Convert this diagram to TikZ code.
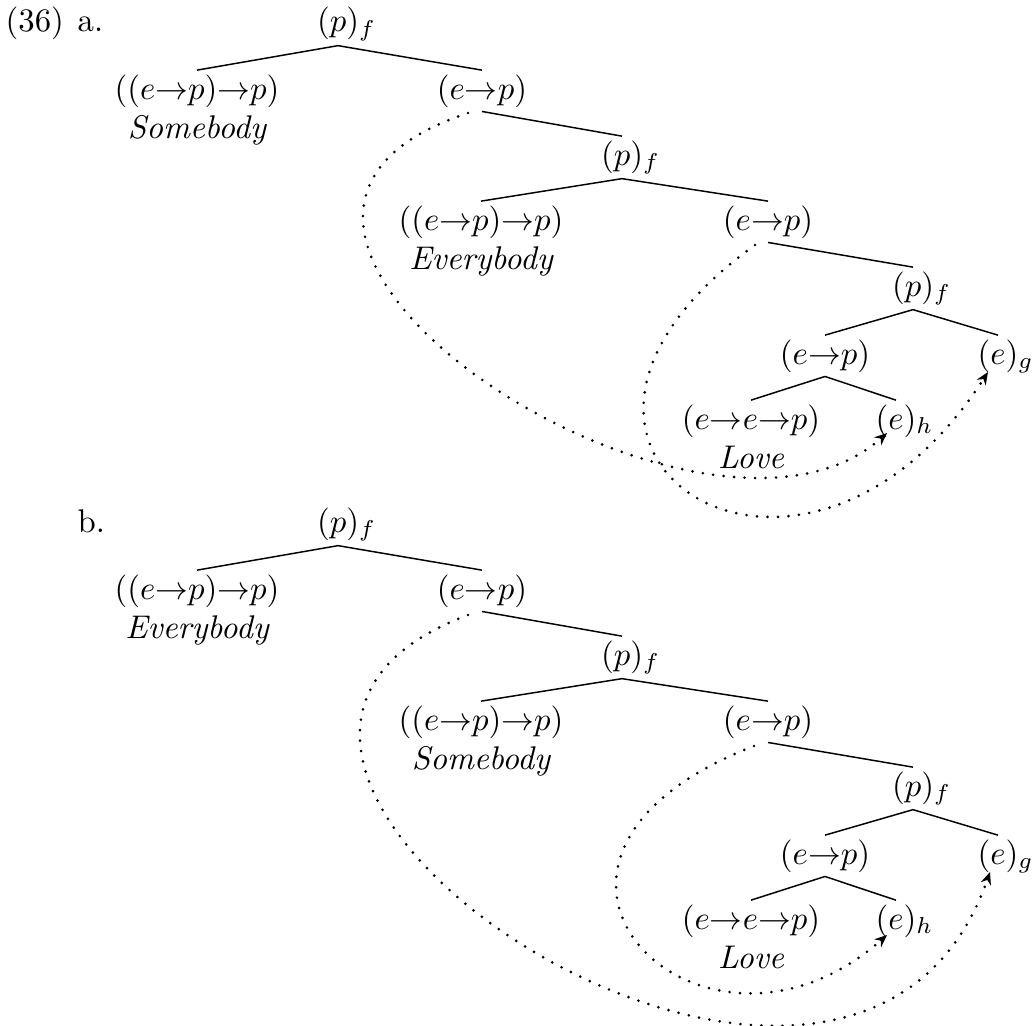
\documentclass[tikz,border=0pt]{standalone}
\usetikzlibrary{calc,arrows.meta}
\newcommand\mytree[4]{%
 \node[tn] (r1#1) at (338,{32+#4}) {$(p)\rlap{$_f$}$};
 \node[tn] (l2#1) at (197,{99+#4}) {$((e{\to}p){\to}p)$};
 \node[wd] (w2#1) at (197,{138+#4}) {#2};
 \node[tn] (e2#1) at (482,{99+#4}) {$(e{\to}p)$};
 \node[tn] (r3#1) at (622,{165+#4}) {$(p)\rlap{$_f$}$};
 \node[tn] (l4#1) at (481,{230+#4}) {$((e{\to}p){\to}p)$};
 \node[wd] (w4#1) at (481,{269+#4}) {#3};
 \node[tn] (e4#1) at (768,{230+#4}) {$(e{\to}p)$};
 \node[tn] (r5#1) at (913,{296+#4}) {$(p)\rlap{$_f$}$};
 \node[tn] (e6#1) at (825,{364+#4}) {$(e{\to}p)$};
 \node[tn] (g6#1) at (998,{364+#4}) {$(e)\rlap{$_g$}$};
 \node[tn] (l7#1) at (751,{429+#4}) {$(e{\to}e{\to}p)$};
 \node[tn] (h7#1) at (896,{429+#4}) {$(e)\rlap{$_h$}$};
 \node[wd] (w7#1) at (751,{468+#4}) {Love};
 \draw[br] (r1#1.south) -- (l2#1.north);
 \draw[br] (r1#1.south) -- (e2#1.north);
 \draw[br] (e2#1.south) -- (r3#1.north);
 \draw[br] (r3#1.south) -- (l4#1.north);
 \draw[br] (r3#1.south) -- (e4#1.north);
 \draw[br] (e4#1.south) -- (r5#1.north);
 \draw[br] (r5#1.south) -- (e6#1.north);
 \draw[br] (r5#1.south) -- (g6#1.north);
 \draw[br] (e6#1.south) -- (l7#1.north);
 \draw[br] (e6#1.south) -- (h7#1.north);
}
\begin{document}
\begin{tikzpicture}[x=0.305pt,y=-0.305pt,
  tn/.style={inner sep=1.1pt, anchor=base},
  wd/.style={inner sep=0pt, anchor=base, font=\itshape},
  lb/.style={inner sep=0pt, anchor=base west},
  br/.style={line width=0.45pt},
  mv/.style={line width=0.9pt, line cap=round, dash pattern=on 0pt off 3.2pt,
             -{Stealth[length=3.8pt,width=3.2pt]}}]
\useasboundingbox (0,0) rectangle (1033,1025);
\node[lb] (n36) at (5,32) {(36)};
\node[lb] (la) at (77,32) {a.};
\node[lb] (lbb) at (77,532) {b.};
\mytree{a}{Somebody}{Everybody}{0}
\mytree{b}{Everybody}{Somebody}{500}
% tree a movement arcs
\draw[mv] ($(e2a.base)+(-14,14)$) .. controls (130,225) and (700,600) .. ($(h7a.base)+(-9,4)$);
\draw[mv] ($(e4a.base)+(-13,15)$) .. controls (470,450) and (800,665) .. ($(g6a.base)+(-10,8)$);
% tree b movement arcs
\draw[mv] ($(e2b.base)+(-14,16)$) .. controls (80,760) and (850,1275) .. ($(g6b.base)+(-8,8)$);
\draw[mv] ($(e4b.base)+(-14,16)$) .. controls (460,860) and (700,1100) .. ($(h7b.base)+(-9,6)$);
\end{tikzpicture}
\end{document}
